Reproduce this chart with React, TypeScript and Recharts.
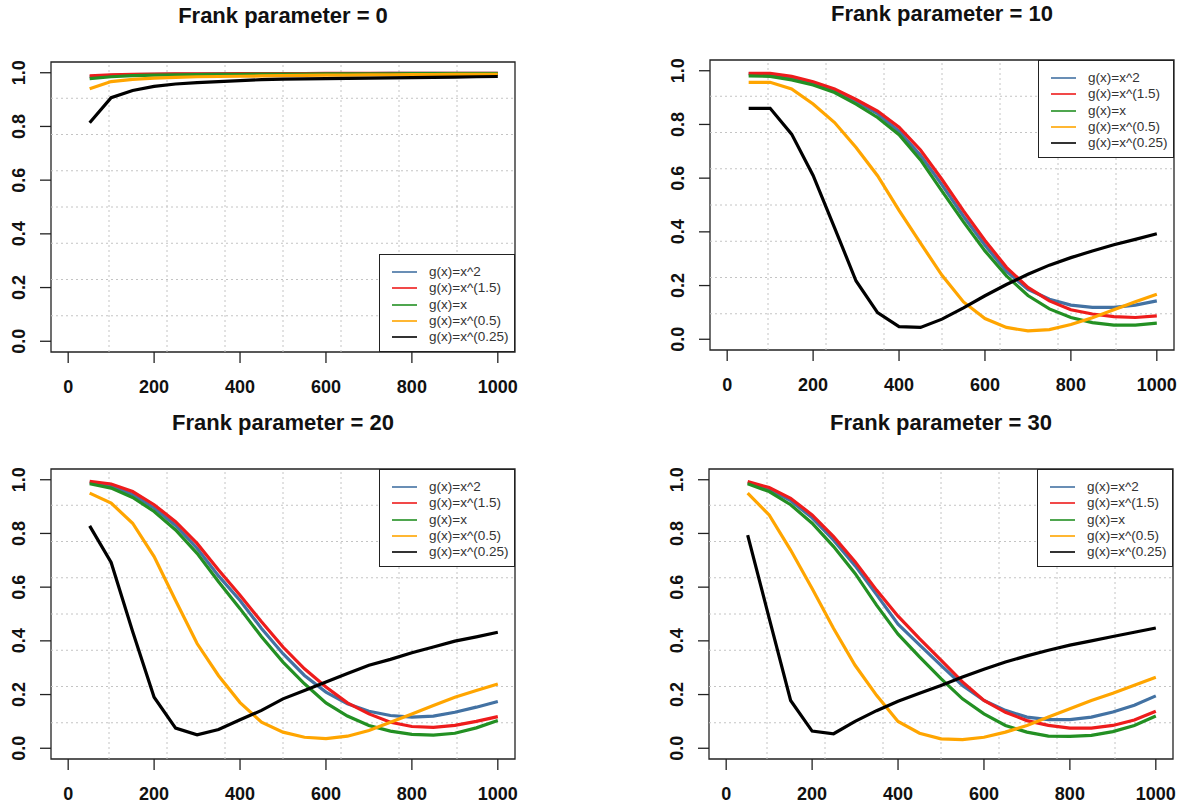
import React from 'react';
import { LineChart, Line, XAxis, YAxis, ReferenceLine, ReferenceArea } from 'recharts';

const sampleSizes = [50, 100, 150, 200, 250, 300, 350, 400, 450, 500, 550, 600, 650, 700, 750, 800, 850, 900, 950, 1000];
const xTicks = [0, 200, 400, 600, 800, 1000];
const yTicks = [0, 0.2, 0.4, 0.6, 0.8, 1];
// R grid(): 7 dotted lines splitting the plot region into 8
const gridX = [95, 230, 365, 500, 635, 770, 905];
const gridY = [0.095, 0.23, 0.365, 0.5, 0.635, 0.77, 0.905];

const seriesKeys = ['sq', 'p15', 'lin', 'sqrt', 'quart'];
const seriesNames = ['g(x)=x^2', 'g(x)=x^(1.5)', 'g(x)=x', 'g(x)=x^(0.5)', 'g(x)=x^(0.25)'];
const seriesColors = ['#4372a3', '#ee1c1c', '#239023', '#ffa500', '#000000'];

// Frank parameter = 0
const f0Sq = [0.985, 0.99, 0.993, 0.994, 0.995, 0.995, 0.996, 0.996, 0.996, 0.997, 0.997, 0.997, 0.997, 0.997, 0.998, 0.998, 0.998, 0.998, 0.998, 0.998];
const f0P15 = [0.988, 0.992, 0.994, 0.995, 0.996, 0.996, 0.996, 0.997, 0.997, 0.997, 0.997, 0.998, 0.998, 0.998, 0.998, 0.998, 0.998, 0.998, 0.998, 0.998];
const f0Lin = [0.978, 0.985, 0.989, 0.991, 0.992, 0.993, 0.994, 0.994, 0.995, 0.995, 0.995, 0.996, 0.996, 0.996, 0.996, 0.997, 0.997, 0.997, 0.997, 0.997];
const f0Sqrt = [0.94, 0.967, 0.975, 0.98, 0.983, 0.985, 0.986, 0.987, 0.988, 0.989, 0.99, 0.991, 0.991, 0.992, 0.992, 0.993, 0.993, 0.994, 0.994, 0.994];
const f0Quart = [0.814, 0.907, 0.934, 0.949, 0.958, 0.963, 0.967, 0.971, 0.974, 0.976, 0.977, 0.978, 0.979, 0.98, 0.981, 0.982, 0.983, 0.984, 0.985, 0.986];

// Frank parameter = 10
const f10Sq = [0.988, 0.986, 0.974, 0.953, 0.925, 0.886, 0.84, 0.775, 0.685, 0.575, 0.458, 0.35, 0.253, 0.186, 0.149, 0.127, 0.119, 0.119, 0.127, 0.143];
const f10P15 = [0.99, 0.99, 0.979, 0.959, 0.932, 0.893, 0.85, 0.79, 0.705, 0.595, 0.478, 0.368, 0.268, 0.193, 0.143, 0.11, 0.094, 0.084, 0.081, 0.087];
const f10Lin = [0.981, 0.979, 0.966, 0.947, 0.919, 0.876, 0.826, 0.762, 0.668, 0.552, 0.437, 0.329, 0.236, 0.163, 0.113, 0.081, 0.062, 0.053, 0.053, 0.06];
const f10Sqrt = [0.957, 0.957, 0.932, 0.876, 0.807, 0.714, 0.609, 0.48, 0.358, 0.238, 0.139, 0.077, 0.044, 0.031, 0.036, 0.055, 0.08, 0.11, 0.14, 0.168];
const f10Quart = [0.86, 0.86, 0.764, 0.61, 0.415, 0.217, 0.099, 0.047, 0.044, 0.075, 0.117, 0.162, 0.204, 0.242, 0.276, 0.304, 0.329, 0.352, 0.372, 0.393];

// Frank parameter = 20
const f20Sq = [0.99, 0.977, 0.945, 0.895, 0.83, 0.745, 0.642, 0.55, 0.446, 0.352, 0.271, 0.209, 0.166, 0.138, 0.122, 0.116, 0.12, 0.134, 0.153, 0.174];
const f20P15 = [0.994, 0.984, 0.956, 0.907, 0.844, 0.763, 0.664, 0.57, 0.471, 0.377, 0.296, 0.228, 0.169, 0.128, 0.097, 0.081, 0.078, 0.085, 0.1, 0.118];
const f20Lin = [0.985, 0.969, 0.934, 0.882, 0.813, 0.726, 0.62, 0.52, 0.415, 0.321, 0.24, 0.169, 0.12, 0.085, 0.064, 0.052, 0.049, 0.056, 0.076, 0.103];
const f20Sqrt = [0.95, 0.913, 0.838, 0.714, 0.55, 0.39, 0.27, 0.17, 0.097, 0.06, 0.041, 0.036, 0.045, 0.066, 0.097, 0.128, 0.159, 0.19, 0.215, 0.239];
const f20Quart = [0.828, 0.692, 0.435, 0.19, 0.075, 0.05, 0.07, 0.106, 0.141, 0.184, 0.215, 0.247, 0.278, 0.309, 0.331, 0.356, 0.377, 0.399, 0.415, 0.432];

// Frank parameter = 30
const f30Sq = [0.989, 0.965, 0.922, 0.858, 0.775, 0.68, 0.572, 0.462, 0.385, 0.309, 0.234, 0.178, 0.141, 0.116, 0.107, 0.107, 0.116, 0.135, 0.16, 0.195];
const f30P15 = [0.993, 0.971, 0.931, 0.869, 0.788, 0.695, 0.589, 0.492, 0.408, 0.328, 0.247, 0.178, 0.134, 0.103, 0.085, 0.075, 0.075, 0.085, 0.105, 0.138];
const f30Lin = [0.985, 0.956, 0.907, 0.838, 0.751, 0.651, 0.533, 0.425, 0.34, 0.259, 0.184, 0.128, 0.085, 0.06, 0.045, 0.044, 0.048, 0.062, 0.085, 0.12];
const f30Sqrt = [0.95, 0.869, 0.738, 0.595, 0.446, 0.309, 0.197, 0.1, 0.056, 0.035, 0.032, 0.041, 0.06, 0.085, 0.116, 0.147, 0.178, 0.205, 0.235, 0.264];
const f30Quart = [0.794, 0.485, 0.178, 0.064, 0.054, 0.1, 0.14, 0.175, 0.205, 0.234, 0.265, 0.294, 0.321, 0.344, 0.365, 0.384, 0.4, 0.416, 0.432, 0.448];

const FONT = '"Liberation Sans", Arial, Helvetica, sans-serif';
const PLOT_W = 464;
const PLOT_H = 290;
const Y_AXIS_W = 51;
const X_AXIS_H = 50;
const TOP_PAD = 10;
const RIGHT_PAD = 4;
const LEGEND_W = 136;
const LEGEND_H = 98;

const buildRows = (cols: number[][]) =>
  sampleSizes.map((n, i) => {
    const row: Record<string, number> = { n };
    seriesKeys.forEach((k, j) => {
      row[k] = cols[j][i];
    });
    return row;
  });

const XTick = (props: any) => {
  const { x, y, payload } = props;
  return (
    <text x={x} y={y} dy="0.71em" textAnchor="middle" fontSize={18} fontWeight="bold" fill="#111" fontFamily={FONT}>
      {payload.value}
    </text>
  );
};

const YTick = (props: any) => {
  const { x, y, payload } = props;
  return (
    <text
      x={x}
      y={y}
      textAnchor="middle"
      transform={`rotate(-90 ${x} ${y})`}
      fontSize={18}
      fontWeight="bold"
      fill="#111"
      fontFamily={FONT}
    >
      {Number(payload.value).toFixed(1)}
    </text>
  );
};

interface PanelProps {
  title: string;
  left: number;
  top: number;
  legendAt: 'top' | 'bottom';
  cols: number[][];
}

const Panel: React.FC<PanelProps> = ({ title, left, top, legendAt, cols }) => {
  const rows = buildRows(cols);
  const legendTop = legendAt === 'bottom' ? top + PLOT_H - LEGEND_H : top;

  return (
    <>
      <div
        style={{
          position: 'absolute',
          left,
          top: top - 60,
          width: PLOT_W,
          textAlign: 'center',
          fontFamily: FONT,
          fontWeight: 'bold',
          fontSize: 22,
          lineHeight: '28px',
          color: '#111',
        }}
      >
        {title}
      </div>

      <div style={{ position: 'absolute', left: left - Y_AXIS_W, top: top - TOP_PAD }}>
        <LineChart
          width={Y_AXIS_W + PLOT_W + RIGHT_PAD}
          height={TOP_PAD + PLOT_H + X_AXIS_H}
          data={rows}
          margin={{ top: TOP_PAD, right: RIGHT_PAD, bottom: 0, left: 0 }}
        >
          <XAxis
            dataKey="n"
            type="number"
            domain={[-40, 1040]}
            ticks={xTicks}
            interval={0}
            axisLine={false}
            tickSize={11}
            tickMargin={17}
            tickLine={{ stroke: '#222', strokeWidth: 1.3 }}
            tick={<XTick />}
            height={X_AXIS_H}
          />
          <YAxis
            type="number"
            domain={[-0.04, 1.04]}
            ticks={yTicks}
            interval={0}
            axisLine={false}
            tickSize={11}
            tickMargin={15}
            tickLine={{ stroke: '#222', strokeWidth: 1.3 }}
            tick={<YTick />}
            width={Y_AXIS_W}
          />
          {gridX.map((v) => (
            <ReferenceLine key={`gx-${v}`} x={v} stroke="#c4c4c4" strokeDasharray="2 3" />
          ))}
          {gridY.map((v) => (
            <ReferenceLine key={`gy-${v}`} y={v} stroke="#c4c4c4" strokeDasharray="2 3" />
          ))}
          <ReferenceArea
            x1={-40}
            x2={1040}
            y1={-0.04}
            y2={1.04}
            fill="none"
            fillOpacity={0}
            stroke="#222"
            strokeWidth={1.3}
            ifOverflow="visible"
          />
          {seriesKeys.map((k, j) => (
            <Line
              key={k}
              dataKey={k}
              name={seriesNames[j]}
              type="linear"
              stroke={seriesColors[j]}
              strokeWidth={3.2}
              dot={false}
              activeDot={false}
              isAnimationActive={false}
            />
          ))}
        </LineChart>
      </div>

      {/* legend box, R style */}
      <div
        style={{
          position: 'absolute',
          left: left + PLOT_W - LEGEND_W,
          top: legendTop,
          width: LEGEND_W,
          height: LEGEND_H,
          boxSizing: 'border-box',
          border: '1.3px solid #222',
          background: 'white',
          fontFamily: FONT,
        }}
      >
        {seriesNames.map((name, j) => (
          <div key={name}>
            <div
              style={{
                position: 'absolute',
                left: 12,
                top: 16 + 16.3 * j,
                width: 25,
                height: 2,
                background: seriesColors[j],
                opacity: 0.8,
              }}
            />
            <div
              style={{
                position: 'absolute',
                left: 49,
                top: 8 + 16.3 * j,
                fontSize: 13.5,
                lineHeight: '17px',
                color: '#333',
                whiteSpace: 'nowrap',
              }}
            >
              {name}
            </div>
          </div>
        ))}
      </div>
    </>
  );
};

export default function App() {
  return (
    <div
      style={{
        position: 'absolute',
        left: 0,
        top: 0,
        width: 1184,
        height: 807,
        background: 'white',
        overflow: 'hidden',
      }}
    >
      <Panel title="Frank parameter = 0" left={51} top={62} legendAt="bottom" cols={[f0Sq, f0P15, f0Lin, f0Sqrt, f0Quart]} />
      <Panel title="Frank parameter = 10" left={710} top={60} legendAt="top" cols={[f10Sq, f10P15, f10Lin, f10Sqrt, f10Quart]} />
      <Panel title="Frank parameter = 20" left={51} top={469} legendAt="top" cols={[f20Sq, f20P15, f20Lin, f20Sqrt, f20Quart]} />
      <Panel title="Frank parameter = 30" left={709} top={469} legendAt="top" cols={[f30Sq, f30P15, f30Lin, f30Sqrt, f30Quart]} />
    </div>
  );
}
